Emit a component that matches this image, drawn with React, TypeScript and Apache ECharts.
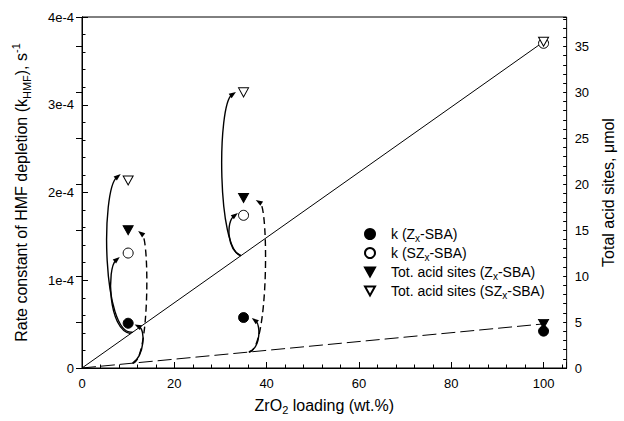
import React, { useEffect, useRef } from 'react';
import * as echarts from 'echarts';

// ---- data ----
const loadings = [10, 35, 100]; // ZrO2 loading, wt.%
const kZ = [0.51e-4, 0.575e-4, 0.42e-4]; // k (Zx-SBA), s^-1
const kSZ = [1.31e-4, 1.74e-4, 3.7e-4]; // k (SZx-SBA), s^-1
const acidZ = [15.0, 18.5, 4.8]; // Tot. acid sites (Zx-SBA), umol
const acidSZ = [20.4, 30.0, 35.5]; // Tot. acid sites (SZx-SBA), umol

const trendX = [0, 100];
const trendSolid = [0, 35.5]; // right axis
const trendDashed = [0, 4.8]; // right axis

const xTicks = [0, 20, 40, 60, 80, 100];
const leftTicks = [0, 1e-4, 2e-4, 3e-4, 4e-4];
const leftTickLabels = ['0', '1e-4', '2e-4', '3e-4', '4e-4'];
const rightTicks = [0, 5, 10, 15, 20, 25, 30, 35];

// curved arrows: [x0, y0, cx1, cy1, cx2, cy2, x1, y1, dashed] in (wt.%, x1e-4 s^-1)
const arrowCurves = [
  [10.97, 0.408, 4.3, 0.365, 4.09, 2.03, 8.39, 2.21, 0],
  [10.54, 0.392, 5.59, 0.433, 5.38, 1.14, 8.18, 1.265, 0],
  [10.97, 0.055, 14.63, 0.068, 14.63, 1.46, 12.16, 1.56, 1],
  [10.97, 0.055, 13.56, 0.148, 13.77, 0.433, 11.4, 0.496, 0],
  [34.43, 1.28, 29.26, 1.345, 29.26, 2.997, 33.35, 3.145, 0],
  [34.43, 1.28, 31.41, 1.345, 31.2, 1.664, 33.78, 1.766, 0],
  [36.15, 0.182, 40.45, 0.19, 40.45, 1.823, 37.65, 1.915, 1],
  [36.15, 0.182, 38.73, 0.228, 38.73, 0.49, 36.79, 0.57, 0],
];

const FONT = 'Liberation Sans, Arial, Helvetica, sans-serif';
const downTri = 'path://M0,0 L10,0 L5,9 Z';

const legendRich: Record<string, string> = {
  'k (Zx-SBA)': '{gap|}k (Z{sub|x}-SBA)',
  'k (SZx-SBA)': '{gap|}k (SZ{sub|x}-SBA)',
  'Tot. acid sites (Zx-SBA)': '{gap|}Tot. acid sites (Z{sub|x}-SBA)',
  'Tot. acid sites (SZx-SBA)': '{gap|}Tot. acid sites (SZ{sub|x}-SBA)',
};

export default function App() {
  const ref = useRef<HTMLDivElement>(null);
  useEffect(() => {
    document.body.style.margin = '0';
    if (!ref.current) return;
    const chart = echarts.init(ref.current, undefined, { renderer: 'svg' });
    const axisText = { color: '#000', fontSize: 13, fontFamily: FONT };
    const subRich = {
      sub: { fontSize: 10, lineHeight: 10, verticalAlign: 'bottom', fontFamily: FONT, color: '#000' },
      sup: { fontSize: 10, lineHeight: 10, verticalAlign: 'top', fontFamily: FONT, color: '#000' },
    };
    const option: any = {
      animation: false,
      backgroundColor: '#fff',
      grid: { left: 82, right: 54, top: 17, bottom: 53, show: true, borderColor: '#000', borderWidth: 1 },
      legend: {
        data: Object.keys(legendRich),
        orient: 'vertical',
        left: 359,
        top: 220,
        itemWidth: 10,
        itemHeight: 10,
        itemGap: 1,
        formatter: (n: string) => legendRich[n] || n,
        textStyle: {
          color: '#000', fontSize: 14, fontFamily: FONT, lineHeight: 18,
          rich: { ...subRich, gap: { width: 11, fontSize: 14, lineHeight: 18 } },
        },
      },
      xAxis: [
        {
          type: 'value', min: 0, max: 105, interval: 20,
          name: 'ZrO{sub|2} loading (wt.%)', nameLocation: 'middle', nameGap: 27,
          nameTextStyle: { color: '#000', fontSize: 16, fontFamily: FONT, lineHeight: 20, rich: { sub: { ...subRich.sub, fontSize: 11, lineHeight: 11 } } },
          axisLine: { lineStyle: { color: '#000', width: 1 } },
          axisTick: { inside: true, length: 6, lineStyle: { color: '#000' } },
          axisLabel: { ...axisText, margin: 9, formatter: (v: number) => (xTicks.includes(v) ? String(v) : '') },
          splitLine: { show: false },
        },
        {
          type: 'value', min: 0, max: 105, interval: 4, position: 'bottom',
          axisLine: { show: false },
          axisTick: { inside: true, length: 3.5, lineStyle: { color: '#000' } },
          axisLabel: { show: false },
          splitLine: { show: false },
        },
      ],
      yAxis: [
        {
          type: 'value', min: 0, max: 4e-4, interval: 1e-4, position: 'left',
          name: 'Rate constant of HMF depletion (k{sub|HMF}), s{sup|-1}', nameLocation: 'middle', nameGap: 50,
          nameTextStyle: { color: '#000', fontSize: 16, fontFamily: FONT, lineHeight: 22, rich: { sub: { ...subRich.sub, fontSize: 11, lineHeight: 11 }, sup: { ...subRich.sup, fontSize: 11, lineHeight: 11 } } },
          axisLine: { lineStyle: { color: '#000', width: 1 } },
          axisTick: { inside: true, length: 6, lineStyle: { color: '#000' } },
          minorTick: { show: true, splitNumber: 5, length: 3.5, lineStyle: { color: '#000' } },
          axisLabel: {
            ...axisText, margin: 8,
            formatter: (v: number) => {
              const i = leftTicks.findIndex((t) => Math.abs(t - v) < 1e-9);
              return i >= 0 ? leftTickLabels[i] : '';
            },
          },
          splitLine: { show: false },
        },
        {
          type: 'value', min: 0, max: 38.2, interval: 5, position: 'right',
          name: 'Total acid sites, μmol', nameLocation: 'middle', nameGap: 28,
          nameTextStyle: { color: '#000', fontSize: 16, fontFamily: FONT },
          axisLine: { lineStyle: { color: '#000', width: 1 } },
          axisTick: { inside: true, length: 6, lineStyle: { color: '#000' } },
          axisLabel: { ...axisText, margin: 8, formatter: (v: number) => (rightTicks.includes(v) ? String(v) : '') },
          splitLine: { show: false },
        },
        {
          type: 'value', min: 0, max: 38.2, interval: 1, position: 'right',
          axisLine: { show: false },
          axisTick: { inside: true, length: 3.5, lineStyle: { color: '#000' } },
          axisLabel: { show: false },
          splitLine: { show: false },
        },
      ],
      series: [
        {
          type: 'line', name: 'trend SZ', yAxisIndex: 1, symbol: 'none', silent: true, z: 1,
          data: trendX.map((x, i) => [x, trendSolid[i]]),
          lineStyle: { color: '#000', width: 1 },
        },
        {
          type: 'line', name: 'trend Z', yAxisIndex: 1, symbol: 'none', silent: true, z: 1,
          data: trendX.map((x, i) => [x, trendDashed[i]]),
          lineStyle: { color: '#000', width: 1, type: [14, 5] },
        },
        {
          type: 'custom', name: 'arrows', xAxisIndex: 0, yAxisIndex: 0, z: 2, silent: true,
          data: arrowCurves,
          renderItem: (_p: any, api: any) => {
            const v = (i: number) => api.value(i) as number;
            const p0 = api.coord([v(0), v(1) * 1e-4]);
            const c1 = api.coord([v(2), v(3) * 1e-4]);
            const c2 = api.coord([v(4), v(5) * 1e-4]);
            const p3 = api.coord([v(6), v(7) * 1e-4]);
            const dashed = v(8) === 1;
            const dx = p3[0] - c2[0];
            const dy = p3[1] - c2[1];
            const len = Math.hypot(dx, dy) || 1;
            const ux = dx / len;
            const uy = dy / len;
            const L = 7;
            const W = 2.6;
            const bx = p3[0] - ux * L;
            const by = p3[1] - uy * L;
            return {
              type: 'group',
              children: [
                {
                  type: 'bezierCurve',
                  shape: { x1: p0[0], y1: p0[1], cpx1: c1[0], cpy1: c1[1], cpx2: c2[0], cpy2: c2[1], x2: bx + ux * 2, y2: by + uy * 2 },
                  style: { stroke: '#000', fill: 'none', lineWidth: 1.4, lineDash: dashed ? [7, 4] : null },
                },
                {
                  type: 'polygon',
                  shape: { points: [[p3[0], p3[1]], [bx - uy * W, by + ux * W], [bx + uy * W, by - ux * W]] },
                  style: { fill: '#000', stroke: 'none' },
                },
              ],
            };
          },
        },
        {
          type: 'scatter', name: 'k (Zx-SBA)', yAxisIndex: 0, symbol: 'circle', symbolSize: 10, z: 5,
          data: loadings.map((x, i) => [x, kZ[i]]),
          itemStyle: { color: '#000', borderColor: '#000', borderWidth: 1, opacity: 1 },
        },
        {
          type: 'scatter', name: 'k (SZx-SBA)', yAxisIndex: 0, symbol: 'circle', symbolSize: 10, z: 5,
          data: loadings.map((x, i) => [x, kSZ[i]]),
          itemStyle: { color: '#fff', borderColor: '#000', borderWidth: 1, opacity: 1 },
        },
        {
          type: 'scatter', name: 'Tot. acid sites (Zx-SBA)', yAxisIndex: 1, symbol: downTri, symbolSize: [10, 9], z: 5,
          data: loadings.map((x, i) => [x, acidZ[i]]),
          itemStyle: { color: '#000', borderColor: '#000', borderWidth: 1, opacity: 1 },
        },
        {
          type: 'scatter', name: 'Tot. acid sites (SZx-SBA)', yAxisIndex: 1, symbol: downTri, symbolSize: [10, 9], z: 5,
          data: loadings.map((x, i) => [x, acidSZ[i]]),
          itemStyle: { color: '#fff', borderColor: '#000', borderWidth: 1, opacity: 1 },
        },
      ],
    };
    chart.setOption(option);
    return () => chart.dispose();
  }, []);
  return <div ref={ref} style={{ width: 624, height: 421 }} />;
}
